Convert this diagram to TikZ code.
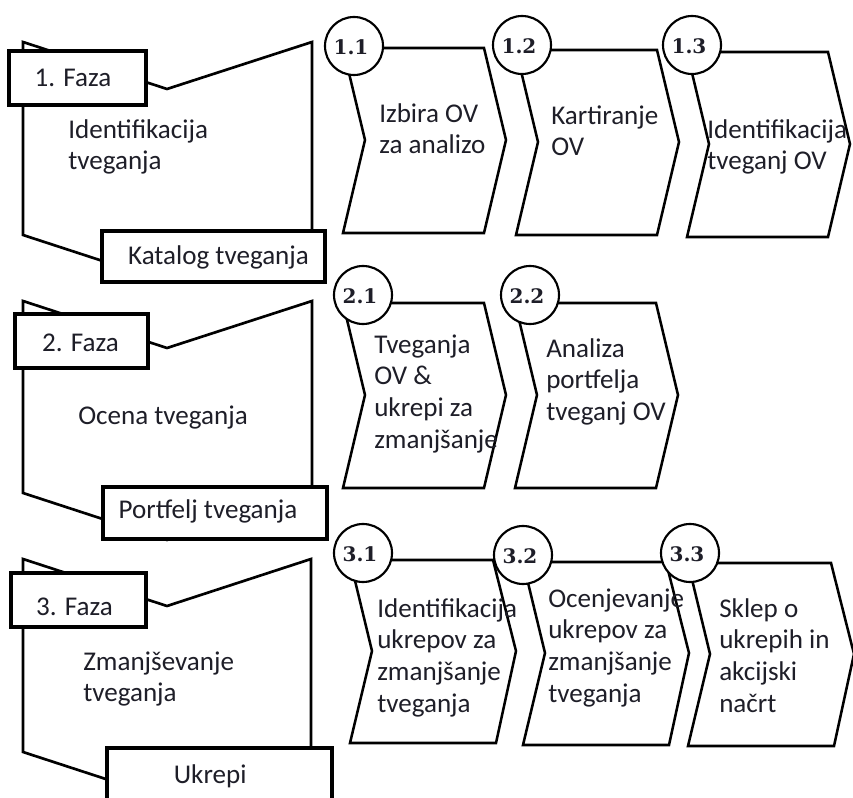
\documentclass[tikz,border=0pt]{standalone}
\usepackage{fontspec}
\setmainfont{Carlito}
\newfontfamily\numfont{DejaVu Serif}
\definecolor{ink}{HTML}{1E1E28}
\newcommand\txtfont{\fontsize{20.3pt}{23.7pt}\selectfont}
% fixed first-line height so that block texts can be placed by their first baseline
\newcommand\fs{\rule{0pt}{15pt}}

\tikzset{
  phase/.style={draw=black, line width=2pt, line join=miter},
  fazabox/.style={rectangle, draw=black, fill=white, line width=2.4pt, inner sep=0pt,
    font=\txtfont, text=ink, text depth=0pt},
  chevline/.style={draw=black, fill=white, line width=1.9pt, line join=miter},
  discline/.style={draw=black, fill=white, line width=1.6pt},
  numtext/.style={inner sep=0pt,
    font=\numfont\bfseries\fontsize{15pt}{15pt}\selectfont, text=ink},
  blocktext/.style={font=\txtfont, text=ink, align=left, inner sep=0pt,
    anchor=north west},
  chev/.pic={\draw[chevline] (0,0) -- (141,0) -- (163,92) -- (141,185)
    -- (0,185) -- (22,92) -- cycle;},
  chevlow/.pic={\draw[chevline] (0,0) -- (143,0) -- (166,91) -- (146,183)
    -- (0,183) -- (22,91) -- cycle;}
}

\begin{document}
\begin{tikzpicture}[x=0.75pt,y=-0.75pt]
\useasboundingbox (0,0) rectangle (853,798);
\clip (0,0) rectangle (853,798);

% ---- phase outlines (notched top, pointed bottom) ----
\draw[phase] (23,42) -- (167,89) -- (312,42) -- (312,235) -- (167,282) -- (23,235) -- cycle;
\draw[phase] (23,301) -- (167,348) -- (312,301) -- (312,493) -- (167,540) -- (23,493) -- cycle;
\draw[phase] (23,559) -- (167,606) -- (311,559) -- (311,752) -- (167,799) -- (23,752) -- cycle;

% ---- phase title and result boxes ----
\node[fazabox, minimum width=102.75pt, minimum height=40.5pt, text height=13.5pt]
  (f1) at (77.5,78) {1. Faza\kern6.75pt};
\node[fazabox, minimum width=167.25pt, minimum height=38.25pt, text height=12.75pt]
  (r1) at (213.5,256.5) {\kern7.5pt Katalog tveganja};
\node[fazabox, minimum width=99.75pt, minimum height=40.5pt, text height=16.5pt]
  (f2) at (81.5,341) {2. Faza\kern1.5pt};
\node[fazabox, minimum width=168pt, minimum height=39pt, text height=7.5pt]
  (r2) at (215,513) {Portfelj tveganja\kern10.5pt};
\node[fazabox, minimum width=101.25pt, minimum height=40.5pt, text height=22.5pt]
  (f3) at (78.5,600) {3. Faza\kern6pt};
\node[fazabox, minimum width=168.75pt, minimum height=40.5pt, text height=12pt]
  (r3) at (219.5,775) {Ukrepi\kern14pt};

% ---- phase descriptions ----
\node[blocktext] (d1) at (68,118) {\fs Identifikacija\\tveganja};
\node[blocktext] (d2) at (78,404) {\fs Ocena tveganja};
\node[blocktext] (d3) at (83,650) {\fs Zmanjševanje\\tveganja};

% ---- step chevrons ----
\pic at (343,48) {chev};
\pic at (516,50) {chev};
\pic at (687,52) {chev};
\pic at (343,303) {chev};
\pic at (515,303) {chev};
\pic at (350,560) {chevlow};
\pic at (523,562) {chevlow};
\pic at (688,563) {chevlow};

% ---- step numbers in discs ----
\foreach \px/\py in {354/46, 522/45, 692/45, 363/295,
                     530/295, 363/553, 523/555, 690/553}
  \draw[discline] (\px,\py) circle[radius=29];
\node[numtext] (n11) at (351,47) {1.1};
\node[numtext] (n12) at (519,46) {1.2};
\node[numtext] (n13) at (689,46) {1.3};
\node[numtext] (n21) at (360,296) {2.1};
\node[numtext] (n22) at (527,296) {2.2};
\node[numtext] (n31) at (360,554) {3.1};
\node[numtext] (n32) at (520,556) {3.2};
\node[numtext] (n33) at (687,554) {3.3};

% ---- step texts ----
\node[blocktext] (s11) at (379,102) {\fs Izbira OV\\za analizo};
\node[blocktext] (s12) at (551,104) {\fs Kartiranje\\OV};
\node[blocktext] (s13) at (707,118) {\fs Identifikacija\\tveganj OV};
\node[blocktext] (s21) at (374,333) {\fs Tveganja\\OV \&\\ukrepi za\\zmanjšanje};
\node[blocktext] (s22) at (546,337) {\fs Analiza\\portfelja\\tveganj OV};
\node[blocktext] (s31) at (377,597) {\fs Identifikacija\\ukrepov za\\zmanjšanje\\tveganja};
\node[blocktext] (s32) at (548,587) {\fs Ocenjevanje\\ukrepov za\\zmanjšanje\\tveganja};
\node[blocktext] (s33) at (719,597) {\fs Sklep o\\ukrepih in\\akcijski\\načrt};
\end{tikzpicture}
\end{document}
